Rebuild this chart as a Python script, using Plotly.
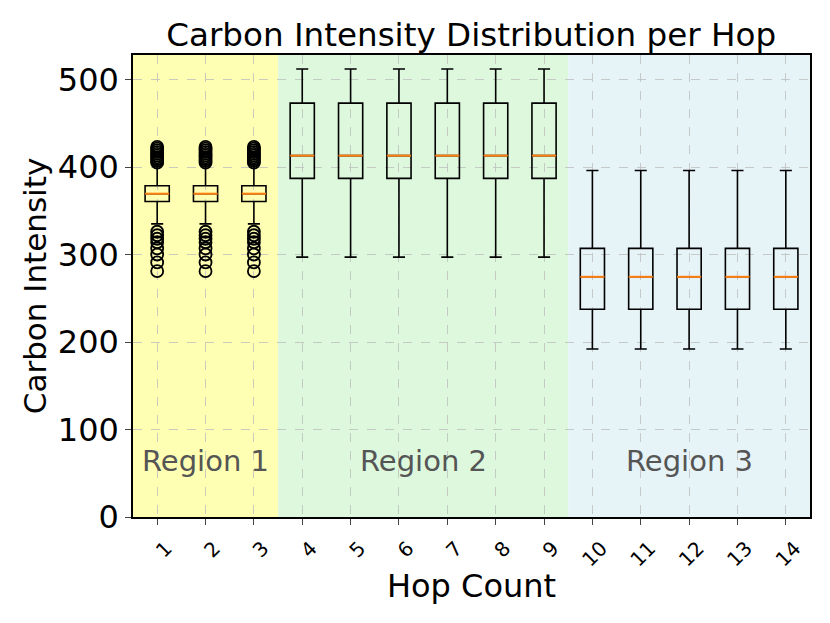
import plotly.graph_objects as go

# Box statistics per hop
hops = list(range(1, 15))
lower = [335, 335, 335, 297, 297, 297, 297, 297, 297, 192, 192, 192, 192, 192]
q1 = [360.5, 360.5, 360.5, 387, 387, 387, 387, 387, 387, 237.5, 237.5, 237.5, 237.5, 237.5]
median = [369.5, 369.5, 369.5, 413, 413, 413, 413, 413, 413, 274.5, 274.5, 274.5, 274.5, 274.5]
q3 = [378.5, 378.5, 378.5, 473, 473, 473, 473, 473, 473, 307, 307, 307, 307, 307]
upper = [402.5, 402.5, 402.5, 512, 512, 512, 512, 512, 512, 396, 396, 396, 396, 396]

# Outliers (only the first region has them)
flier_hops = [1, 2, 3]
fliers_high = [405, 407, 409, 411, 413, 415, 417, 419, 421, 423]
fliers_low = [326, 322, 318, 314, 307, 300, 291, 281]

# Background regions
region_names = ["Region 1", "Region 2", "Region 3"]
region_start = [0.5, 3.5, 9.5]
region_end = [3.5, 9.5, 14.5]
region_colors = ["rgb(255,255,179)", "rgb(221,248,221)", "rgb(230,243,247)"]
label_y = 64

font = "DejaVu Sans"

fig = go.Figure()

# Boxes from precomputed stats
fig.add_trace(go.Box(
    x=hops, q1=q1, median=median, q3=q3,
    lowerfence=lower, upperfence=upper,
    width=0.5, whiskerwidth=0.5,
    fillcolor="rgba(0,0,0,0)",
    line=dict(color="black", width=1.6),
    hoverinfo="skip", showlegend=False))

# Orange median lines drawn on top
mx, my = [], []
for h, m in zip(hops, median):
    mx += [h - 0.25, h + 0.25, None]
    my += [m, m, None]
fig.add_trace(go.Scatter(x=mx, y=my, mode="lines",
                         line=dict(color="#ff7f0e", width=2),
                         showlegend=False, hoverinfo="skip"))

# Fliers as open circles
fx, fy = [], []
for h in flier_hops:
    for v in fliers_high + fliers_low:
        fx.append(h)
        fy.append(v)
fig.add_trace(go.Scatter(x=fx, y=fy, mode="markers",
                         marker=dict(symbol="circle-open", size=12,
                                     color="black", line=dict(width=1.8)),
                         showlegend=False, hoverinfo="skip"))

# Shaded regions and their labels
for name, x0, x1, c in zip(region_names, region_start, region_end, region_colors):
    fig.add_shape(type="rect", xref="x", yref="paper", x0=x0, x1=x1, y0=0, y1=1,
                  fillcolor=c, line=dict(width=0), layer="below")
    fig.add_annotation(x=(x0 + x1) / 2, y=label_y, text=name, showarrow=False,
                       font=dict(family=font, size=29, color="rgb(85,85,85)"))

# page body adds an 8px offset, margins compensate for it
fig.update_layout(
    width=830, height=623,
    margin=dict(l=125, r=28, t=47, b=114),
    paper_bgcolor="white", plot_bgcolor="white",
    font=dict(family=font, color="black"),
    title=dict(text="Carbon Intensity Distribution per Hop",
               font=dict(family=font, size=32.6, color="black"),
               x=0.558, xanchor="center", yref="container", y=0.958, yanchor="middle"),
)

fig.update_xaxes(range=[0.5, 14.5], tickmode="array", tickvals=hops,
                 ticktext=[str(h) for h in hops], tickangle=-45,
                 tickfont=dict(size=20), ticks="outside", ticklen=6,
                 ticklabelshift=9, ticklabelstandoff=4,
                 showline=True, linecolor="black", linewidth=1.5, mirror=True,
                 showgrid=True, gridcolor="rgba(190,190,190,0.8)", griddash="dash",
                 zeroline=False,
                 title=dict(text="Hop Count", font=dict(size=32), standoff=4))

fig.update_yaxes(range=[0, 528], tickvals=[0, 100, 200, 300, 400, 500],
                 tickfont=dict(size=32), ticks="outside", ticklen=6,
                 showline=True, linecolor="black", linewidth=1.5, mirror=True,
                 showgrid=True, gridcolor="rgba(190,190,190,0.8)", griddash="dash",
                 zeroline=False,
                 title=dict(text="Carbon Intensity", font=dict(size=31), standoff=2))

fig.write_html("out.html")
